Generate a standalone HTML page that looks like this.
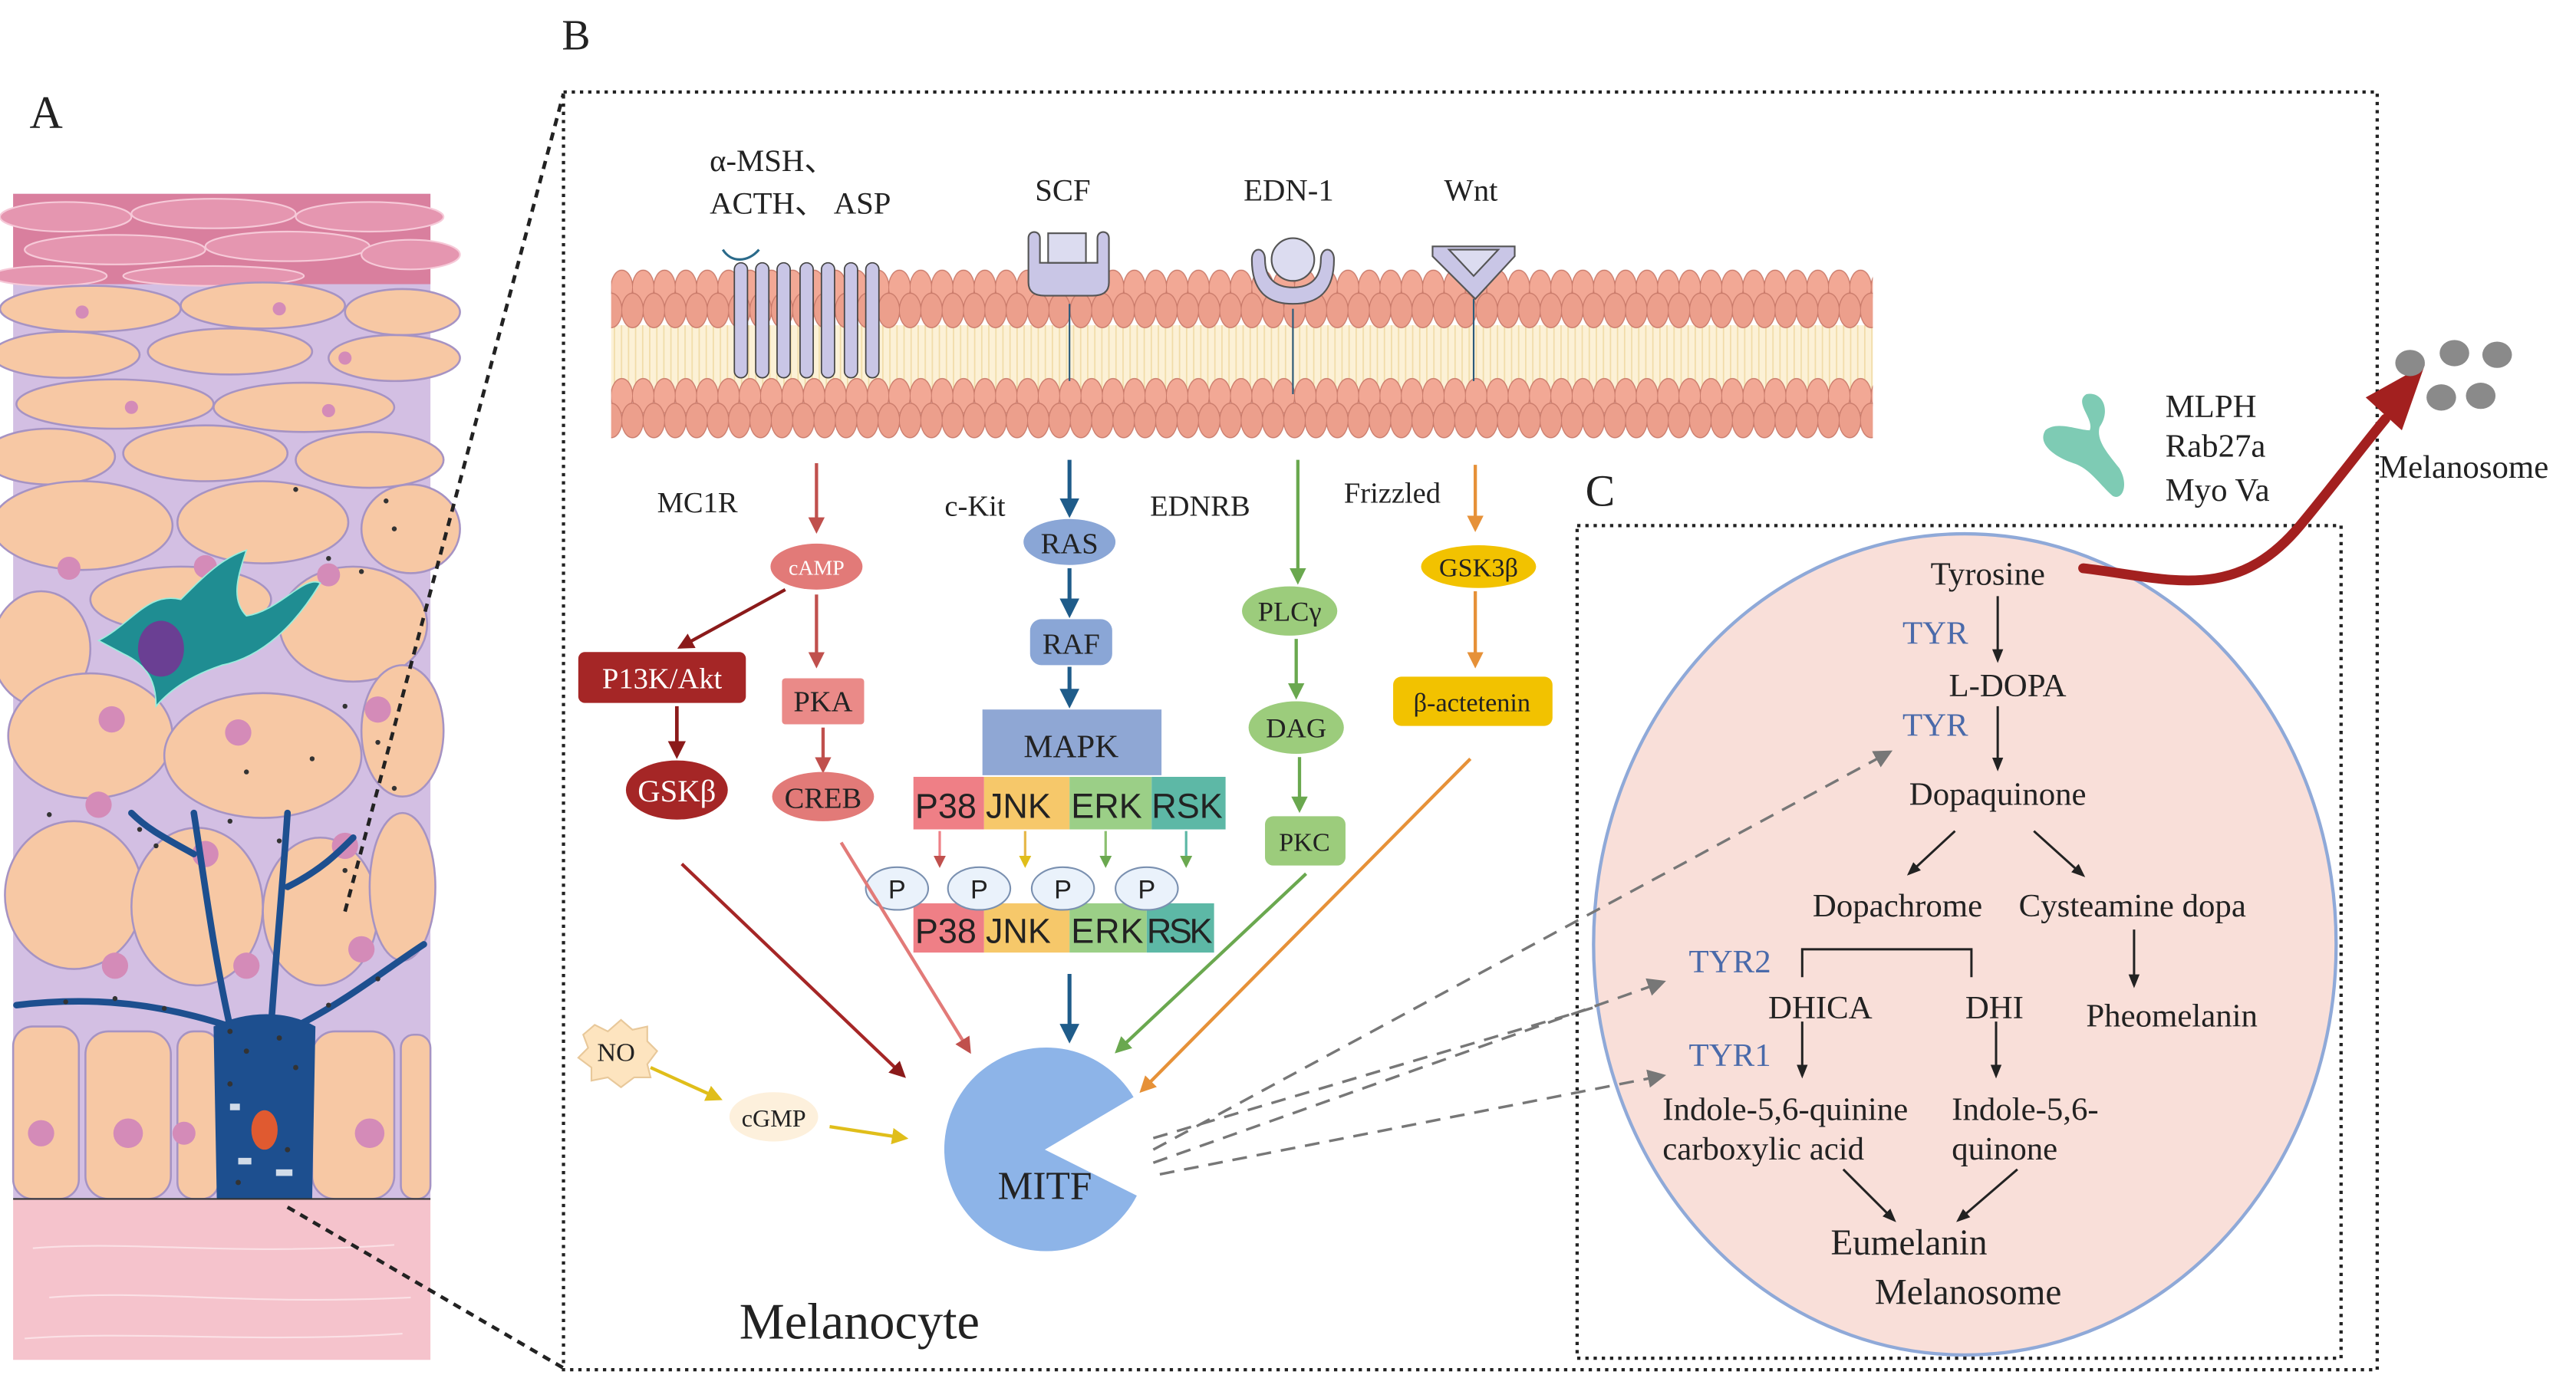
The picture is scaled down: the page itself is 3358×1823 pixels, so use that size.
<!DOCTYPE html>
<html><head><meta charset="utf-8"><style>
html,body{margin:0;padding:0;background:#fff;}
svg{display:block;}
text{font-family:"Liberation Serif",serif;fill:#222;}
.s{font-family:"Liberation Sans",sans-serif;}
</style></head><body>
<svg width="3358" height="1823" viewBox="0 0 1568 851.2" xmlns="http://www.w3.org/2000/svg">
<defs>
<marker id="mr" viewBox="0 0 10 10" refX="8" refY="5" markerWidth="5" markerHeight="5" orient="auto"><path d="M0,0L10,5L0,10z" fill="#c0504d"/></marker>
<marker id="md" viewBox="0 0 10 10" refX="8" refY="5" markerWidth="5" markerHeight="5" orient="auto"><path d="M0,0L10,5L0,10z" fill="#8b1a1a"/></marker>
<marker id="mb" viewBox="0 0 10 10" refX="8" refY="5" markerWidth="5" markerHeight="5" orient="auto"><path d="M0,0L10,5L0,10z" fill="#1f5c8a"/></marker>
<marker id="mg" viewBox="0 0 10 10" refX="8" refY="5" markerWidth="5" markerHeight="5" orient="auto"><path d="M0,0L10,5L0,10z" fill="#6aa84f"/></marker>
<marker id="mo" viewBox="0 0 10 10" refX="8" refY="5" markerWidth="5" markerHeight="5" orient="auto"><path d="M0,0L10,5L0,10z" fill="#e69138"/></marker>
<marker id="my" viewBox="0 0 10 10" refX="8" refY="5" markerWidth="5" markerHeight="5" orient="auto"><path d="M0,0L10,5L0,10z" fill="#e0be1a"/></marker>
<marker id="mk" viewBox="0 0 10 10" refX="8" refY="5" markerWidth="6" markerHeight="6" orient="auto"><path d="M0,1L10,5L0,9z" fill="#222"/></marker>
<marker id="mgr" viewBox="0 0 10 10" refX="8" refY="5" markerWidth="7" markerHeight="7" orient="auto"><path d="M0,0L10,5L0,10z" fill="#777"/></marker>
<pattern id="h1" x="372" y="164" width="13" height="22" patternUnits="userSpaceOnUse">
<ellipse cx="6.5" cy="11" rx="6.6" ry="10.5" fill="#f2a895" stroke="#c97a6a" stroke-width="0.6"/></pattern>
<pattern id="h2" x="378.5" y="178" width="13" height="22" patternUnits="userSpaceOnUse">
<ellipse cx="6.5" cy="11" rx="6.6" ry="10.5" fill="#ec9f8c" stroke="#c97a6a" stroke-width="0.6"/></pattern>
<pattern id="h3" x="372" y="230" width="13" height="22" patternUnits="userSpaceOnUse">
<ellipse cx="6.5" cy="11" rx="6.6" ry="10.5" fill="#f2a895" stroke="#c97a6a" stroke-width="0.6"/></pattern>
<pattern id="h4" x="378.5" y="245" width="13" height="22" patternUnits="userSpaceOnUse">
<ellipse cx="6.5" cy="11" rx="6.6" ry="10.5" fill="#ec9f8c" stroke="#c97a6a" stroke-width="0.6"/></pattern>
<pattern id="tails" x="372" y="0" width="4.3" height="10" patternUnits="userSpaceOnUse">
<rect width="4.3" height="10" fill="#fcf1d6"/><line x1="2" y1="0" x2="2" y2="10" stroke="#f1dca8" stroke-width="0.8"/>
</pattern>
</defs>

<!-- Panel A -->
<text x="18" y="78" font-size="28">A</text>
<rect x="8" y="118" width="254" height="612" fill="#d3bfe3"/>
<rect x="8" y="118" width="254" height="55" fill="#d97f9e"/>
<g fill="#e596b0" stroke="#f6c9d8" stroke-width="1">
<ellipse cx="40" cy="132" rx="40" ry="9"/><ellipse cx="130" cy="130" rx="50" ry="9"/><ellipse cx="225" cy="132" rx="45" ry="9"/>
<ellipse cx="70" cy="152" rx="55" ry="9"/><ellipse cx="175" cy="150" rx="50" ry="9"/><ellipse cx="250" cy="155" rx="30" ry="9"/>
<ellipse cx="30" cy="168" rx="35" ry="6"/><ellipse cx="130" cy="168" rx="55" ry="6"/>
</g>
<g fill="#f7c8a4" stroke="#a693c3" stroke-width="1.2">
<ellipse cx="55" cy="188" rx="55" ry="14"/><ellipse cx="160" cy="186" rx="50" ry="14"/><ellipse cx="245" cy="190" rx="35" ry="14"/>
<ellipse cx="40" cy="216" rx="45" ry="14"/><ellipse cx="140" cy="214" rx="50" ry="14"/><ellipse cx="240" cy="218" rx="40" ry="14"/>
<ellipse cx="70" cy="246" rx="60" ry="15"/><ellipse cx="185" cy="248" rx="55" ry="15"/>
<ellipse cx="30" cy="278" rx="40" ry="17"/><ellipse cx="125" cy="276" rx="50" ry="17"/><ellipse cx="225" cy="280" rx="45" ry="17"/>
<ellipse cx="50" cy="320" rx="55" ry="27"/><ellipse cx="160" cy="318" rx="52" ry="25"/><ellipse cx="250" cy="322" rx="30" ry="27"/>
<ellipse cx="110" cy="365" rx="55" ry="20"/>
<ellipse cx="215" cy="380" rx="45" ry="35"/>
<ellipse cx="25" cy="395" rx="30" ry="35"/>
<ellipse cx="55" cy="448" rx="50" ry="38"/><ellipse cx="160" cy="460" rx="60" ry="38"/><ellipse cx="245" cy="445" rx="25" ry="40"/>
<ellipse cx="45" cy="545" rx="42" ry="45"/><ellipse cx="120" cy="552" rx="40" ry="48"/><ellipse cx="195" cy="555" rx="35" ry="45"/><ellipse cx="245" cy="540" rx="20" ry="45"/>
<rect x="8" y="625" width="40" height="105" rx="12"/><rect x="52" y="628" width="52" height="102" rx="14"/><rect x="108" y="628" width="25" height="102" rx="10"/><rect x="190" y="628" width="50" height="102" rx="14"/><rect x="244" y="630" width="18" height="100" rx="8"/>
</g>
<g fill="#d48bb8">
<circle cx="50" cy="190" r="4"/><circle cx="170" cy="188" r="4"/><circle cx="210" cy="218" r="4"/><circle cx="80" cy="248" r="4"/><circle cx="200" cy="250" r="4"/>
<circle cx="42" cy="346" r="7"/><circle cx="125" cy="345" r="7"/><circle cx="200" cy="350" r="7"/>
<circle cx="68" cy="438" r="8"/><circle cx="145" cy="446" r="8"/><circle cx="230" cy="432" r="8"/>
<circle cx="60" cy="490" r="8"/><circle cx="125" cy="520" r="8"/><circle cx="210" cy="515" r="8"/>
<circle cx="70" cy="588" r="8"/><circle cx="150" cy="588" r="8"/><circle cx="220" cy="578" r="8"/>
<circle cx="78" cy="690" r="9"/><circle cx="112" cy="690" r="7"/><circle cx="225" cy="690" r="9"/><circle cx="25" cy="690" r="8"/>
</g>
<path d="M60,390 C80,380 90,360 110,365 C125,350 135,340 150,335 C145,350 140,365 150,375 C170,372 185,350 195,355 C180,380 160,400 135,405 C120,410 105,418 95,430 C95,415 90,405 75,398z" fill="#1f8d92" stroke="#9ed" stroke-width="0.8"/>
<ellipse cx="98" cy="395" rx="14" ry="17" fill="#6a3f93"/>
<g stroke="#1d4f8f" stroke-width="4" fill="none" stroke-linecap="round">
<path d="M10,612 C60,606 100,612 140,625"/>
<path d="M140,625 C130,580 125,540 118,495"/>
<path d="M165,625 C168,580 172,540 175,495"/>
<path d="M180,625 C210,610 235,590 258,575"/>
<path d="M175,540 C195,530 205,520 215,510"/>
<path d="M118,520 C100,510 90,505 80,495"/>
</g>
<path d="M130,625 C150,615 175,615 192,625 L190,730 L132,732z" fill="#1d4f8f"/>
<ellipse cx="161" cy="688" rx="8" ry="12" fill="#e05a30"/>
<g fill="#fff" opacity="0.8"><rect x="145" y="705" width="8" height="4"/><rect x="168" y="712" width="10" height="4"/><rect x="140" y="672" width="6" height="4"/></g>
<g fill="#333">
<circle cx="140" cy="628" r="1.6"/><circle cx="150" cy="640" r="1.6"/><circle cx="170" cy="632" r="1.6"/><circle cx="180" cy="650" r="1.6"/><circle cx="140" cy="660" r="1.6"/><circle cx="175" cy="700" r="1.6"/><circle cx="145" cy="720" r="1.6"/>
<circle cx="235" cy="305" r="1.5"/><circle cx="240" cy="322" r="1.5"/><circle cx="200" cy="340" r="1.5"/><circle cx="220" cy="348" r="1.5"/><circle cx="180" cy="298" r="1.5"/>
<circle cx="210" cy="430" r="1.5"/><circle cx="230" cy="452" r="1.5"/><circle cx="190" cy="462" r="1.5"/><circle cx="150" cy="470" r="1.5"/><circle cx="240" cy="480" r="1.5"/>
<circle cx="85" cy="505" r="1.5"/><circle cx="95" cy="515" r="1.5"/><circle cx="140" cy="500" r="1.5"/><circle cx="170" cy="512" r="1.5"/><circle cx="210" cy="530" r="1.5"/><circle cx="30" cy="496" r="1.5"/>
<circle cx="40" cy="610" r="1.5"/><circle cx="70" cy="608" r="1.5"/><circle cx="100" cy="614" r="1.5"/><circle cx="200" cy="612" r="1.5"/><circle cx="230" cy="596" r="1.5"/>
</g>
<rect x="8" y="730" width="254" height="98" fill="#f5c3cc"/>
<line x1="8" y1="730" x2="262" y2="730" stroke="#333" stroke-width="1"/>
<g stroke="#fbe1e6" stroke-width="1" fill="none"><path d="M20,760 C80,755 140,765 240,758"/><path d="M30,790 C90,785 150,795 250,790"/><path d="M15,815 C80,810 160,818 245,812"/></g>

<!-- zoom lines -->
<line x1="175" y1="735" x2="343" y2="833" stroke="#222" stroke-width="2.2" stroke-dasharray="5,4"/>
<line x1="210" y1="555" x2="343" y2="57" stroke="#222" stroke-width="2.2" stroke-dasharray="5,4"/>

<!-- Panel B -->
<text x="342" y="30" font-size="26">B</text>
<rect x="343" y="56" width="1104" height="778" fill="none" stroke="#222" stroke-width="2" stroke-dasharray="2,3"/>

<!-- membrane -->
<rect x="372" y="198" width="768" height="42" fill="url(#tails)"/>
<rect x="372" y="164" width="768" height="22" fill="url(#h1)"/>
<rect x="372" y="178" width="768" height="22" fill="url(#h2)"/>
<rect x="372" y="230" width="768" height="22" fill="url(#h3)"/>
<rect x="372" y="245" width="768" height="22" fill="url(#h4)"/>

<text x="432" y="104" font-size="19">α-MSH、</text>
<text x="432" y="130" font-size="19">ACTH、 ASP</text>
<text x="630" y="122" font-size="19">SCF</text>
<text x="757" y="122" font-size="19">EDN-1</text>
<text x="879" y="122" font-size="19">Wnt</text>
<!-- GPCR -->
<g fill="#c9c6e6" stroke="#444" stroke-width="0.8">
<rect x="447" y="160" width="8" height="70" rx="4"/><rect x="460" y="160" width="8" height="70" rx="4"/><rect x="473" y="160" width="8" height="70" rx="4"/><rect x="487" y="160" width="8" height="70" rx="4"/><rect x="500" y="160" width="8" height="70" rx="4"/><rect x="514" y="160" width="8" height="70" rx="4"/><rect x="527" y="160" width="8" height="70" rx="4"/>
</g>
<path d="M440,152 C445,160 455,160 462,152" fill="none" stroke="#2a6a8a" stroke-width="1.5"/>
<!-- SCF receptor -->
<path d="M626,145 L626,172 C626,178 630,180 636,180 L665,180 C671,180 675,178 675,172 L675,145 C675,140 668,140 668,145 L668,160 L633,160 L633,145 C633,140 626,140 626,145z" fill="#c9c6e6" stroke="#555" stroke-width="1"/>
<rect x="638" y="142" width="23" height="18" fill="#dcdcf0" stroke="#555" stroke-width="1"/>
<!-- EDN receptor -->
<path d="M762,158 C762,178 772,185 787,185 C802,185 812,178 812,158 C812,150 804,150 804,158 C804,170 797,175 787,175 C777,175 770,170 770,158 C770,150 762,150 762,158z" fill="#c9c6e6" stroke="#555" stroke-width="1"/>
<circle cx="787" cy="158" r="13" fill="#dcdcf0" stroke="#555" stroke-width="1"/>
<!-- Wnt receptor -->
<path d="M872,150 L922,150 L922,156 L898,182 L872,156z" fill="#c9c6e6" stroke="#555" stroke-width="1"/>
<path d="M882,152 L912,152 L897,168z" fill="#dcdcf0" stroke="#555" stroke-width="1"/>
<g stroke="#2a5a7a" stroke-width="1"><line x1="651" y1="185" x2="651" y2="232"/><line x1="787" y1="188" x2="787" y2="240"/><line x1="897" y1="182" x2="897" y2="232"/></g>

<!-- column 1 -->
<text x="400" y="312" font-size="18">MC1R</text>
<line x1="497" y1="282" x2="497" y2="323" stroke="#c0504d" stroke-width="2" marker-end="url(#mr)"/>
<ellipse cx="497" cy="345" rx="28" ry="14" fill="#e27a78"/>
<text x="497" y="350" font-size="13" text-anchor="middle" style="fill:#fff">cAMP</text>
<line x1="478" y1="359" x2="414" y2="394" stroke="#8b1a1a" stroke-width="2" marker-end="url(#md)"/>
<line x1="497" y1="362" x2="497" y2="405" stroke="#c0504d" stroke-width="2" marker-end="url(#mr)"/>
<rect x="352" y="397" width="102" height="31" rx="4" fill="#a52626"/>
<text x="403" y="419" font-size="18" text-anchor="middle" style="fill:#fff">P13K/Akt</text>
<rect x="476" y="413" width="50" height="28" rx="2" fill="#ea8a88"/>
<text x="501" y="433" font-size="18" text-anchor="middle">PKA</text>
<line x1="412" y1="430" x2="412" y2="460" stroke="#8b1a1a" stroke-width="2.2" marker-end="url(#md)"/>
<line x1="501" y1="443" x2="501" y2="469" stroke="#c0504d" stroke-width="2" marker-end="url(#mr)"/>
<ellipse cx="412" cy="481" rx="31" ry="18" fill="#a52626"/>
<text x="412" y="488" font-size="19" text-anchor="middle" style="fill:#fff">GSKβ</text>
<ellipse cx="501" cy="485" rx="31" ry="15" fill="#e27a78"/>
<text x="501" y="492" font-size="18" text-anchor="middle">CREB</text>

<!-- column 2 -->
<text x="575" y="314" font-size="18">c-Kit</text>
<line x1="651" y1="280" x2="651" y2="313" stroke="#1f5c8a" stroke-width="2.4" marker-end="url(#mb)"/>
<ellipse cx="651" cy="330" rx="28" ry="14" fill="#8aa6d6"/>
<text x="651" y="337" font-size="18" text-anchor="middle">RAS</text>
<line x1="651" y1="346" x2="651" y2="374" stroke="#1f5c8a" stroke-width="2.4" marker-end="url(#mb)"/>
<rect x="627" y="377" width="50" height="28" rx="7" fill="#8aa6d6"/>
<text x="652" y="398" font-size="18" text-anchor="middle">RAF</text>
<line x1="651" y1="406" x2="651" y2="429" stroke="#1f5c8a" stroke-width="2.4" marker-end="url(#mb)"/>
<rect x="598" y="432" width="109" height="40" fill="#8fa7d4"/>
<text x="652" y="461" font-size="20" text-anchor="middle">MAPK</text>
<g font-size="21">
<rect x="556" y="473" width="43" height="32" fill="#ef7f86"/><rect x="599" y="473" width="52" height="32" fill="#f6c86a"/><rect x="651" y="473" width="50" height="32" fill="#9bcf87"/><rect x="701" y="473" width="45" height="32" fill="#5db8a6"/>
<text x="557" y="498" class="s">P38</text><text x="600" y="498" class="s">JNK</text><text x="652" y="498" class="s">ERK</text><text x="701" y="498" class="s">RSK</text>
<rect x="556" y="550" width="43" height="30" fill="#ef7f86"/><rect x="599" y="550" width="52" height="30" fill="#f6c86a"/><rect x="651" y="550" width="47" height="30" fill="#9bcf87"/><rect x="698" y="550" width="41" height="30" fill="#5db8a6"/>
<text x="557" y="574" class="s">P38</text><text x="600" y="574" class="s">JNK</text><text x="652" y="574" class="s" textLength="44">ERK</text><text x="698" y="574" class="s" textLength="40">RSK</text>
</g>
<g stroke-width="1.5">
<line x1="572" y1="506" x2="572" y2="527" stroke="#ef7f86" marker-end="url(#mr)"/>
<line x1="624" y1="506" x2="624" y2="527" stroke="#e6b84a" marker-end="url(#my)"/>
<line x1="673" y1="506" x2="673" y2="527" stroke="#8bc070" marker-end="url(#mg)"/>
<line x1="722" y1="506" x2="722" y2="527" stroke="#5db8a6" marker-end="url(#mg)"/>
</g>
<g fill="#eaf2fb" stroke="#7a90b0" stroke-width="1">
<ellipse cx="546" cy="541" rx="19" ry="13"/><ellipse cx="596" cy="541" rx="19" ry="13"/><ellipse cx="647" cy="541" rx="19" ry="13"/><ellipse cx="698" cy="541" rx="19" ry="13"/>
</g>
<g font-size="16" text-anchor="middle"><text x="546" y="547" class="s">P</text><text x="596" y="547" class="s">P</text><text x="647" y="547" class="s">P</text><text x="698" y="547" class="s">P</text></g>
<line x1="651" y1="593" x2="651" y2="633" stroke="#1f5c8a" stroke-width="2.4" marker-end="url(#mb)"/>

<!-- column 3 -->
<text x="700" y="314" font-size="18">EDNRB</text>
<line x1="790" y1="280" x2="790" y2="354" stroke="#6aa84f" stroke-width="2" marker-end="url(#mg)"/>
<ellipse cx="785" cy="372" rx="29" ry="15" fill="#9ccc7c"/>
<text x="785" y="378" font-size="17" text-anchor="middle">PLCγ</text>
<line x1="789" y1="389" x2="789" y2="424" stroke="#6aa84f" stroke-width="2" marker-end="url(#mg)"/>
<ellipse cx="789" cy="443" rx="29" ry="16" fill="#9ccc7c"/>
<text x="789" y="449" font-size="17" text-anchor="middle">DAG</text>
<line x1="791" y1="461" x2="791" y2="493" stroke="#6aa84f" stroke-width="2" marker-end="url(#mg)"/>
<rect x="770" y="497" width="49" height="30" rx="5" fill="#9ccc7c"/>
<text x="794" y="518" font-size="16" text-anchor="middle">PKC</text>

<!-- column 4 -->
<text x="818" y="306" font-size="18">Frizzled</text>
<line x1="898" y1="283" x2="898" y2="322" stroke="#e69138" stroke-width="2" marker-end="url(#mo)"/>
<ellipse cx="900" cy="345" rx="35" ry="13" fill="#f2c200"/>
<text x="900" y="351" font-size="16" text-anchor="middle">GSK3β</text>
<line x1="898" y1="360" x2="898" y2="405" stroke="#e69138" stroke-width="2" marker-end="url(#mo)"/>
<rect x="848" y="412" width="97" height="30" rx="5" fill="#f2c200"/>
<text x="896" y="433" font-size="16" text-anchor="middle">β-actetenin</text>

<!-- to MITF -->
<line x1="415" y1="526" x2="550" y2="655" stroke="#a52626" stroke-width="2" marker-end="url(#md)"/>
<line x1="512" y1="513" x2="590" y2="640" stroke="#e27a78" stroke-width="2" marker-end="url(#mr)"/>
<line x1="795" y1="532" x2="680" y2="640" stroke="#6aa84f" stroke-width="2" marker-end="url(#mg)"/>
<line x1="895" y1="462" x2="695" y2="664" stroke="#e69138" stroke-width="2" marker-end="url(#mo)"/>
<path d="M636,700 L690,668 A62,62 0 1,0 692,728 Z" fill="#8db4e8"/>
<text x="636" y="730" font-size="24" text-anchor="middle">MITF</text>

<!-- NO / cGMP -->
<path d="M355,630 L362,624 L370,628 L378,621 L385,627 L394,625 L394,634 L400,640 L394,648 L396,656 L386,656 L378,662 L370,656 L360,658 L360,650 L352,644 L358,638z" fill="#fde4bf" stroke="#e8c89a" stroke-width="1"/>
<text x="375" y="646" font-size="16" text-anchor="middle">NO</text>
<line x1="396" y1="650" x2="438" y2="669" stroke="#e0be1a" stroke-width="2" marker-end="url(#my)"/>
<ellipse cx="471" cy="680" rx="27" ry="15" fill="#fdf0dc"/>
<text x="471" y="686" font-size="15" text-anchor="middle">cGMP</text>
<line x1="505" y1="686" x2="551" y2="693" stroke="#e0be1a" stroke-width="2" marker-end="url(#my)"/>

<text x="450" y="815" font-size="31">Melanocyte</text>

<!-- Panel C -->
<text x="965" y="308" font-size="27">C</text>
<rect x="960" y="320" width="465" height="507" fill="none" stroke="#222" stroke-width="2" stroke-dasharray="2,3"/>
<ellipse cx="1196" cy="575" rx="226" ry="250" fill="#f9dfd9" stroke="#8fa9d8" stroke-width="2"/>

<!-- dashed from MITF (after ellipse) -->
<g stroke="#777" stroke-width="1.6" stroke-dasharray="9,6" fill="none">
<line x1="702" y1="700" x2="1150" y2="458" marker-end="url(#mgr)"/>
<line x1="702" y1="708" x2="1012" y2="598" marker-end="url(#mgr)"/>
<line x1="706" y1="715" x2="1012" y2="655" marker-end="url(#mgr)"/>
<line x1="702" y1="693" x2="975" y2="612"/>
</g>

<g font-size="20">
<text x="1210" y="356" text-anchor="middle">Tyrosine</text>
<text x="1158" y="392" style="fill:#4a6aaa">TYR</text>
<text x="1222" y="424" text-anchor="middle">L-DOPA</text>
<text x="1158" y="448" style="fill:#4a6aaa">TYR</text>
<text x="1216" y="490" text-anchor="middle">Dopaquinone</text>
<text x="1155" y="558" text-anchor="middle">Dopachrome</text>
<text x="1298" y="558" text-anchor="middle">Cysteamine dopa</text>
<text x="1028" y="592" style="fill:#4a6aaa">TYR2</text>
<text x="1108" y="620" text-anchor="middle">DHICA</text>
<text x="1214" y="620" text-anchor="middle">DHI</text>
<text x="1322" y="625" text-anchor="middle">Pheomelanin</text>
<text x="1028" y="649" style="fill:#4a6aaa">TYR1</text>
<text x="1012" y="682">Indole-5,6-quinine</text>
<text x="1012" y="706">carboxylic acid</text>
<text x="1188" y="682">Indole-5,6-</text>
<text x="1188" y="706">quinone</text>
<text x="1162" y="764" text-anchor="middle" font-size="22">Eumelanin</text>
<text x="1198" y="794" text-anchor="middle" font-size="22">Melanosome</text>
</g>
<g stroke="#222" stroke-width="1.4" fill="none">
<line x1="1216" y1="363" x2="1216" y2="402" marker-end="url(#mk)"/>
<line x1="1216" y1="430" x2="1216" y2="468" marker-end="url(#mk)"/>
<line x1="1190" y1="506" x2="1162" y2="532" marker-end="url(#mk)"/>
<line x1="1238" y1="506" x2="1268" y2="533" marker-end="url(#mk)"/>
<line x1="1299" y1="566" x2="1299" y2="600" marker-end="url(#mk)"/>
<path d="M1097,595 L1097,578 L1200,578 L1200,595"/>
<line x1="1097" y1="622" x2="1097" y2="655" marker-end="url(#mk)"/>
<line x1="1215" y1="622" x2="1215" y2="655" marker-end="url(#mk)"/>
<line x1="1122" y1="712" x2="1153" y2="743" marker-end="url(#mk)"/>
<line x1="1228" y1="712" x2="1192" y2="743" marker-end="url(#mk)"/>
</g>

<!-- red export arrow -->
<path d="M1268,346 C1320,352 1360,368 1400,320 C1420,296 1438,272 1452,255" fill="none" stroke="#a3201f" stroke-width="6" stroke-linecap="round"/>
<polygon points="1476,222 1440,242 1462,262" fill="#a3201f"/>
<g fill="#8a8a8a">
<ellipse cx="1467" cy="221" rx="9" ry="8"/><ellipse cx="1494" cy="215" rx="9" ry="8"/><ellipse cx="1520" cy="216" rx="9" ry="8"/><ellipse cx="1486" cy="242" rx="9" ry="8"/><ellipse cx="1510" cy="241" rx="9" ry="8"/>
</g>
<text x="1448" y="291" font-size="20">Melanosome</text>
<path d="M1270,240 C1280,238 1285,250 1278,260 C1276,268 1282,275 1290,285 C1296,295 1292,305 1286,302 C1278,295 1272,285 1262,282 C1250,278 1240,270 1245,262 C1252,256 1265,262 1272,262 C1275,255 1262,245 1270,240z" fill="#7ecbb4"/>
<g font-size="20"><text x="1318" y="254">MLPH</text><text x="1318" y="278">Rab27a</text><text x="1318" y="305">Myo Va</text></g>
</svg>
</body></html>
